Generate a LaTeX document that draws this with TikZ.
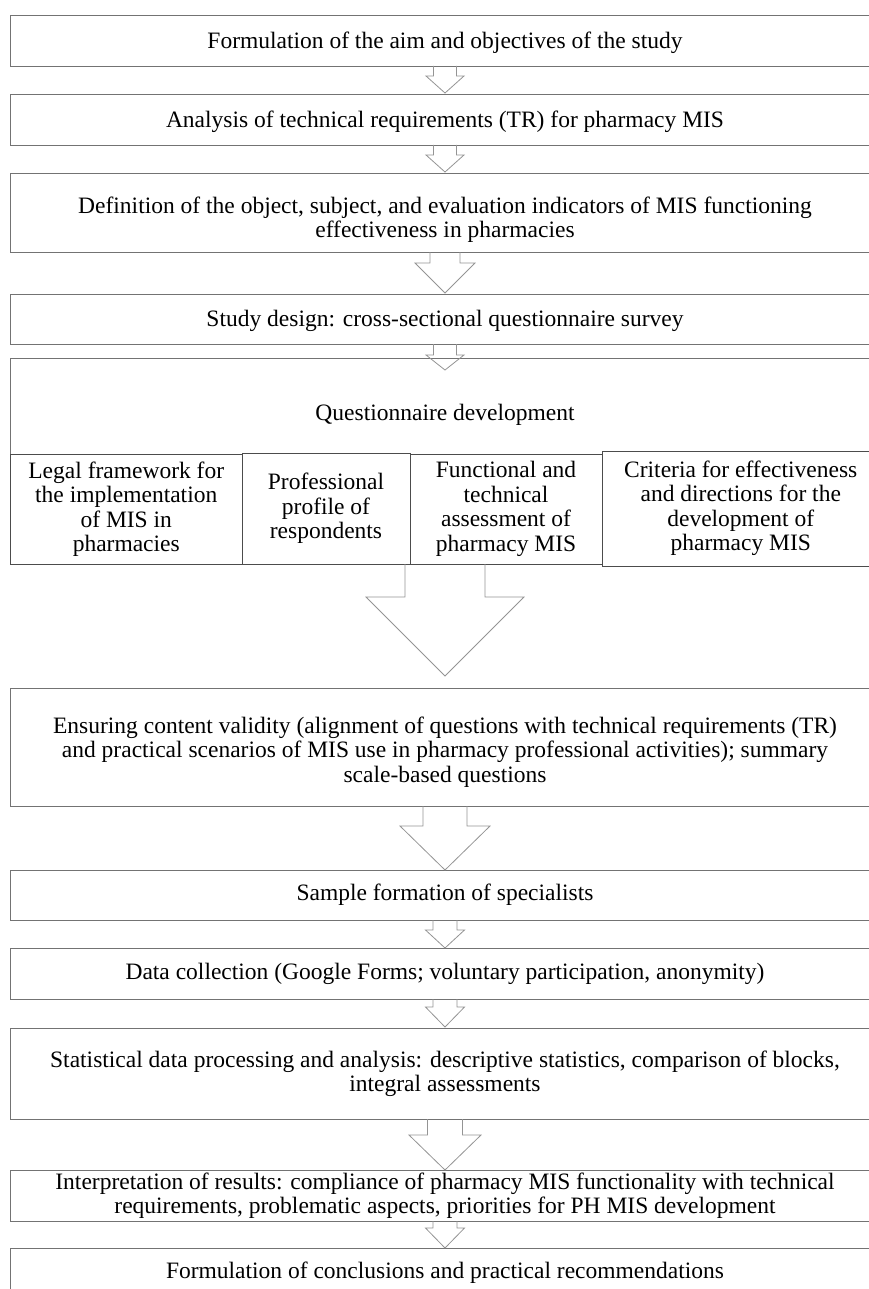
\documentclass[tikz,border=0pt]{standalone}
\usepackage{fontspec}
\setmainfont{Liberation Serif}

\begin{document}
\begin{tikzpicture}[x=1pt,y=-1pt,
    caja/.style={anchor=north west,minimum width=869pt,inner sep=0pt,outer sep=0pt},
    texto/.style={align=center,inner sep=1pt,font=\fontsize{23.5}{24.5}\selectfont},
    borde/.style={draw=linea,line width=0.9pt},
    subcaja/.style={caja,texto,draw=lineaosc,fill=white,line width=0.9pt,outer sep=0pt},
    flechagris/.style={draw=flecha,line width=0.8pt,line join=miter}]
    %colores
    \colorlet{linea}{black!55}
    \colorlet{lineaosc}{black!70}
    \colorlet{flecha}{black!42}
    \useasboundingbox (0,0) rectangle (868,1289);

    % Cajas principales (abiertas a la derecha, como en el original)
    \foreach \nombre/\y/\h/\dy/\txt in {
        b1/15/51/2/{Formulation of the aim and objectives of the study},
        b2/94/51/2/{Analysis of technical requirements (TR) for pharmacy MIS},
        b3/173/79/7/{Definition of the object, subject, and evaluation indicators of MIS functioning\\effectiveness in pharmacies},
        b4/294/50/2/{Study design: cross-sectional questionnaire survey},
        q/358/114/0/{Questionnaire development},
        b6/688/118/5/{Ensuring content validity (alignment of questions with technical requirements (TR)\\and practical scenarios of MIS use in pharmacy professional activities); summary\\scale-based questions},
        b7/870/50/0/{Sample formation of specialists},
        b8/948/51/0/{Data collection (Google Forms; voluntary participation, anonymity)},
        b9/1028/91/0/{Statistical data processing and analysis: descriptive statistics, comparison of blocks,\\integral assessments},
        b10/1170/51/0/{Interpretation of results: compliance of pharmacy MIS functionality with technical\\requirements, problematic aspects, priorities for PH MIS development},
        b11/1248/50/0/{Formulation of conclusions and practical recommendations}}
    {
        \node[caja,minimum height=\h] (\nombre) at (10.5,\y) {};
        \draw[borde] (\nombre.north east) -- (\nombre.north west) -- (\nombre.south west) -- (\nombre.south east);
        \node[texto] (\nombre-t) at ([yshift=-\dy]\nombre.center) {\txt};
    }

    % Bloques del cuestionario
    \foreach \nombre/\x/\y/\w/\h/\txt in {
        s1/10.5/454/231.5/110/{Legal framework for\\the implementation\\of MIS in\\pharmacies},
        s2/242/453/168/111/{Professional\\profile of\\respondents},
        s3/410/454/192/110/{Functional and\\technical\\assessment of\\pharmacy MIS},
        s4/602/451/277.5/115/{Criteria for effectiveness\\and directions for the\\development of\\pharmacy MIS}}
    \node[subcaja,minimum width=\w,minimum height=\h] (\nombre) at (\x,\y) {\txt};
    \coordinate (qbot) at (s2.south -| q.south);

    % Flechas huecas: ancho del tallo, ancho de la punta, largo del tallo, ajuste de la punta
    \foreach \a/\b/\sw/\hw/\sl/\tip in {
        b1.south/b2.north/11.5/19/10/1,
        b2.south/b3.north/11.5/19/10/1,
        b3.south/b4.north/15/30/11/1,
        b4.south/q.north/11.5/19/11/-12,
        qbot/b6.north/40/79/33/12,
        b6.south/b7.north/22/45/20/0,
        b7.south/b8.north/12/19.5/10/0,
        b8.south/b9.north/12/19.5/8/1,
        b9.south/b10.north/17.5/36/16/0,
        b10.south/b11.north/12/19.5/7/0}
    {
        \path (\a) ++(0,\sl) coordinate (hb);
        \draw[flechagris] ([xshift=-\sw]\a) -- ([xshift=-\sw]hb) -- ([xshift=-\hw]hb)
            -- ([yshift=\tip]\b) -- ([xshift=\hw]hb) -- ([xshift=\sw]hb) -- ([xshift=\sw]\a);
    }
\end{tikzpicture}
\end{document}
